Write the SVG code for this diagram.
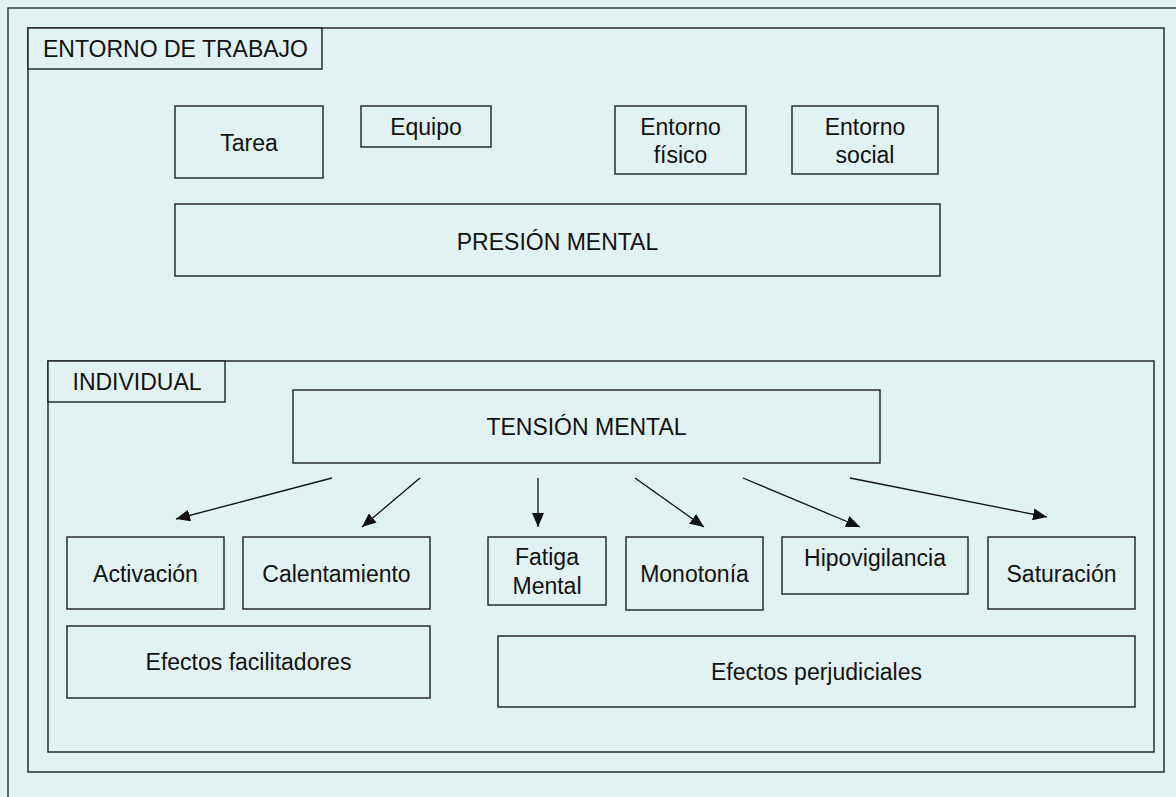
<svg xmlns="http://www.w3.org/2000/svg" width="1176" height="797" viewBox="0 0 1176 797">
  <defs>
    <marker id="arrow" viewBox="0 0 14 12" refX="14" refY="6" markerWidth="14" markerHeight="12" markerUnits="userSpaceOnUse" orient="auto">
      <path d="M0,0 L14,6 L0,12 Z" fill="#111"/>
    </marker>
    <style>
      .box { fill: #e2f1f1; stroke: #1e1e1e; stroke-width: 1.4; }
      .frame { fill: none; stroke: #333; stroke-width: 1.4; }
      .lbl { font-family: "Liberation Sans", Arial, sans-serif; font-size: 23px; fill: #111; }
      .c { text-anchor: middle; }
      .conn { stroke: #111; stroke-width: 1.3; fill: none; marker-end: url(#arrow); }
    </style>
  </defs>

  <!-- page background and outer frame -->
  <rect x="0" y="0" width="1176" height="797" fill="#e2f1f1"/>
  <rect class="frame" x="8" y="8" width="1200" height="830"/>

  <!-- work environment container -->
  <g id="entorno-trabajo">
    <rect class="box" x="28" y="28" width="1136" height="744"/>
    <rect class="box" x="28" y="28" width="294" height="41"/>
    <text class="lbl" x="43" y="57">ENTORNO DE TRABAJO</text>
  </g>

  <g id="tarea">
    <rect class="box" x="175" y="106" width="148" height="72"/>
    <text class="lbl c" x="249" y="151">Tarea</text>
  </g>

  <g id="equipo">
    <rect class="box" x="361" y="106" width="130" height="41"/>
    <text class="lbl c" x="426" y="135">Equipo</text>
  </g>

  <g id="entorno-fisico">
    <rect class="box" x="615" y="106" width="131" height="68"/>
    <text class="lbl c" x="680.5" y="135">Entorno</text>
    <text class="lbl c" x="680.5" y="163">físico</text>
  </g>

  <g id="entorno-social">
    <rect class="box" x="792" y="106" width="146" height="68"/>
    <text class="lbl c" x="865" y="135">Entorno</text>
    <text class="lbl c" x="865" y="163">social</text>
  </g>

  <g id="presion-mental">
    <rect class="box" x="175" y="204" width="765" height="72"/>
    <text class="lbl c" x="557.5" y="250">PRESIÓN MENTAL</text>
  </g>

  <!-- individual container -->
  <g id="individual">
    <rect class="box" x="48" y="361" width="1106" height="391"/>
    <rect class="box" x="48" y="361" width="177" height="41"/>
    <text class="lbl" x="72.5" y="390">INDIVIDUAL</text>
  </g>

  <g id="tension-mental">
    <rect class="box" x="293" y="390" width="587" height="73"/>
    <text class="lbl c" x="586.5" y="435">TENSIÓN MENTAL</text>
  </g>

  <g id="activacion">
    <rect class="box" x="67" y="537" width="157" height="72"/>
    <text class="lbl c" x="145.5" y="582">Activación</text>
  </g>

  <g id="calentamiento">
    <rect class="box" x="243" y="537" width="187" height="72"/>
    <text class="lbl c" x="336.5" y="582">Calentamiento</text>
  </g>

  <g id="fatiga-mental">
    <rect class="box" x="488" y="537" width="118" height="68"/>
    <text class="lbl c" x="547" y="565">Fatiga</text>
    <text class="lbl c" x="547" y="594">Mental</text>
  </g>

  <g id="monotonia">
    <rect class="box" x="626" y="537" width="137" height="73"/>
    <text class="lbl c" x="694.5" y="582">Monotonía</text>
  </g>

  <g id="hipovigilancia">
    <rect class="box" x="782" y="537" width="186" height="57"/>
    <text class="lbl c" x="875" y="566">Hipovigilancia</text>
  </g>

  <g id="saturacion">
    <rect class="box" x="988" y="537" width="147" height="72"/>
    <text class="lbl c" x="1061.5" y="582">Saturación</text>
  </g>

  <g id="efectos-facilitadores">
    <rect class="box" x="67" y="626" width="363" height="72"/>
    <text class="lbl c" x="248.5" y="670">Efectos facilitadores</text>
  </g>

  <g id="efectos-perjudiciales">
    <rect class="box" x="498" y="636" width="637" height="71"/>
    <text class="lbl c" x="816.5" y="680">Efectos perjudiciales</text>
  </g>

  <!-- arrows from mental strain to its effects -->
  <g id="connectors">
    <line class="conn" x1="332" y1="478" x2="176" y2="519"/>
    <line class="conn" x1="420" y1="478" x2="362" y2="527"/>
    <line class="conn" x1="538" y1="478" x2="538" y2="527"/>
    <line class="conn" x1="635" y1="478" x2="704" y2="527"/>
    <line class="conn" x1="743" y1="478" x2="860" y2="527"/>
    <line class="conn" x1="850" y1="478" x2="1047" y2="517"/>
  </g>
</svg>
